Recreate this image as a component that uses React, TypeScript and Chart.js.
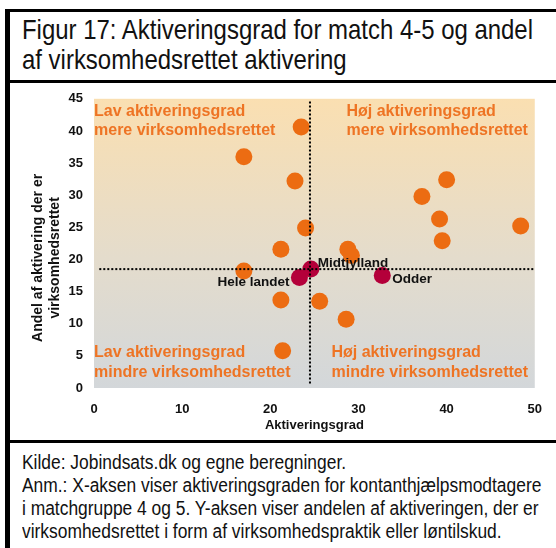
import React, { useEffect, useRef } from "react";
import { Chart, registerables } from "chart.js";

Chart.register(...registerables);

const TITLE_LINES = [
  "Figur 17: Aktiveringsgrad for match 4-5 og andel",
  "af virksomhedsrettet aktivering",
];
const NOTE_LINES = [
  "Kilde: Jobindsats.dk og egne beregninger.",
  "Anm.: X-aksen viser aktiveringsgraden for kontanthjælpsmodtagere",
  "i matchgruppe 4 og 5. Y-aksen viser andelen af aktiveringen, der er",
  "virksomhedsrettet i form af virksomhedspraktik eller løntilskud.",
];
const X_TITLE = "Aktiveringsgrad";
const Y_TITLE = ["Andel af aktivering der er", "virksomhedsrettet"];

const MUNI_X = [17.0, 23.5, 22.8, 21.2, 17.0, 24.0, 28.8, 29.2, 40.0, 37.2, 39.2, 48.4, 39.5, 21.2, 21.4, 25.6, 28.6];
const MUNI_Y = [36.0, 40.6, 32.2, 21.6, 18.2, 24.9, 21.6, 20.6, 32.4, 29.8, 26.3, 25.2, 22.9, 13.7, 5.8, 13.5, 10.7];

const HL_NAMES = ["Hele landet", "Midtjylland", "Odder"];
const HL_X = [23.3, 24.6, 32.7];
const HL_Y = [17.2, 18.5, 17.5];

const REF_X = 24.5;
const REF_Y = 18.5;

const X_MIN = 0, X_MAX = 50, X_STEP = 10;
const Y_MIN = 0, Y_MAX = 45, Y_STEP = 5;

const Q_TOP_LEFT = ["Lav aktiveringsgrad", "mere virksomhedsrettet"];
const Q_TOP_RIGHT = ["Høj aktiveringsgrad", "mere virksomhedsrettet"];
const Q_BOTTOM_LEFT = ["Lav aktiveringsgrad", "mindre virksomhedsrettet"];
const Q_BOTTOM_RIGHT = ["Høj aktiveringsgrad", "mindre virksomhedsrettet"];

const ORANGE = "#EC6C12";
const CRIMSON = "#B4003A";
const LABEL_ORANGE = "#EE7424";
const BOLD = "'Liberation Sans', Arial, sans-serif";
const PLAIN = "'Liberation Sans', Arial, sans-serif";

const bgPlugin = {
  id: "bgGradient",
  beforeDatasetsDraw(chart: any) {
    const { ctx, chartArea: a } = chart;
    const g = ctx.createLinearGradient(0, a.top, 0, a.bottom);
    g.addColorStop(0, "rgb(250,223,177)");
    g.addColorStop(0.55, "rgb(228,220,204)");
    g.addColorStop(1, "rgb(211,215,218)");
    ctx.save();
    ctx.fillStyle = g;
    ctx.fillRect(a.left, a.top, a.right - a.left, a.bottom - a.top);
    ctx.restore();
  },
};

const LABEL_OFFSETS: Record<string, { dx: number; dy: number; align: CanvasTextAlign }> = {
  "Hele landet": { dx: -10, dy: 9, align: "right" },
  Midtjylland: { dx: 7, dy: -2, align: "left" },
  Odder: { dx: 10, dy: 7, align: "left" },
};

const textPlugin = {
  id: "texts",
  afterDraw(chart: any) {
    const { ctx, chartArea: a } = chart;
    ctx.save();
    // y-axis title (two centred lines, rotated)
    ctx.font = `bold 14px ${BOLD}`;
    ctx.fillStyle = "#111";
    ctx.textAlign = "center";
    ctx.textBaseline = "middle";
    const cy = (a.top + a.bottom) / 2 + 14.5;
    Y_TITLE.forEach((t, i) => {
      ctx.save();
      ctx.translate(28.5 + i * 16.5, cy);
      ctx.rotate(-Math.PI / 2);
      ctx.fillText(t, 0, 0);
      ctx.restore();
    });
    ctx.restore();
  },
  afterDatasetsDraw(chart: any) {
    const { ctx, chartArea: a } = chart;
    ctx.save();
    // quadrant labels
    ctx.font = `bold 16px ${BOLD}`;
    ctx.fillStyle = LABEL_ORANGE;
    ctx.textBaseline = "alphabetic";
    ctx.textAlign = "left";
    const drawQ = (lines: string[], x: number, y: number) => {
      lines.forEach((t, i) => ctx.fillText(t, x, y + i * 19.5));
    };
    drawQ(Q_TOP_LEFT, a.left, a.top + 17);
    drawQ(Q_TOP_RIGHT, a.left + 252.5, a.top + 17);
    drawQ(Q_BOTTOM_LEFT, a.left, a.bottom - 31);
    drawQ(Q_BOTTOM_RIGHT, a.left + 237.5, a.bottom - 31);
    // point labels
    ctx.font = `bold 13.5px ${BOLD}`;
    ctx.fillStyle = "#111";
    const meta = chart.getDatasetMeta(2);
    HL_NAMES.forEach((name, i) => {
      const el = meta.data[i];
      const o = LABEL_OFFSETS[name];
      ctx.textAlign = o.align;
      ctx.fillText(name, el.x + o.dx, el.y + o.dy);
    });
    ctx.restore();
  },
};

export default function App() {
  const ref = useRef<HTMLCanvasElement | null>(null);
  useEffect(() => {
    if (!ref.current) return;
    const tickFont = { family: BOLD, size: 13, weight: "bold" as const };
    const chart = new Chart(ref.current, {
      type: "scatter",
      data: {
        datasets: [
          {
            type: "line",
            data: [
              { x: 0.6, y: REF_Y },
              { x: X_MAX, y: REF_Y },
            ],
            borderColor: "#000",
            borderWidth: 2,
            borderDash: [2, 2],
            pointRadius: 0,
            fill: false,
            order: 0,
          } as any,
          {
            type: "line",
            data: [
              { x: REF_X, y: 0.7 },
              { x: REF_X, y: 44.6 },
            ],
            borderColor: "#000",
            borderWidth: 2,
            borderDash: [2, 2],
            pointRadius: 0,
            fill: false,
            order: 0,
          } as any,
          {
            data: HL_X.map((x, i) => ({ x, y: HL_Y[i] })),
            backgroundColor: CRIMSON,
            borderColor: CRIMSON,
            borderWidth: 0,
            pointRadius: 8.5,
            order: 1,
          },
          {
            data: MUNI_X.map((x, i) => ({ x, y: MUNI_Y[i] })),
            backgroundColor: ORANGE,
            borderColor: ORANGE,
            borderWidth: 0,
            pointRadius: 8.5,
            order: 2,
          },
        ],
      },
      options: {
        responsive: true,
        maintainAspectRatio: false,
        animation: false,
        layout: { padding: { left: 0, right: 17, top: 0, bottom: 0 } },
        plugins: { legend: { display: false }, tooltip: { enabled: false } },
        scales: {
          x: {
            type: "linear",
            min: X_MIN,
            max: X_MAX,
            grid: { display: false, drawTicks: false },
            border: { display: false },
            ticks: { stepSize: X_STEP, font: tickFont, color: "#111", padding: 14 },
            title: {
              display: true,
              text: X_TITLE,
              font: tickFont,
              color: "#111",
              padding: { top: 0, bottom: 7 },
            },
            afterFit: (s: any) => {
              s.height = 52;
            },
          },
          y: {
            type: "linear",
            min: Y_MIN,
            max: Y_MAX,
            grid: { display: false, drawTicks: false },
            border: { display: false },
            ticks: { stepSize: Y_STEP, font: tickFont, color: "#111", padding: 11 },
            title: { display: false },
            afterFit: (s: any) => {
              s.width = 84;
            },
          },
        },
      },
      plugins: [bgPlugin, textPlugin],
    });
    return () => chart.destroy();
  }, []);

  const narrow = (scale: number): React.CSSProperties => ({
    display: "block",
    transform: `scaleX(${scale})`,
    transformOrigin: "left top",
    whiteSpace: "nowrap",
  });

  return (
    <div
      style={{
        position: "fixed",
        left: 0,
        top: 0,
        width: 556,
        height: 548,
        background: "#fff",
        overflow: "hidden",
      }}
    >
      <div style={{ position: "absolute", left: 5, top: 9, width: 551, height: 3, background: "#000" }} />
      <div style={{ position: "absolute", left: 5, top: 9, width: 5, height: 539, background: "#000" }} />
      <div
        style={{
          position: "absolute",
          left: 22,
          top: 15,
          width: 650,
          fontFamily: PLAIN,
          fontSize: 28,
          lineHeight: "30px",
          color: "#111",
        }}
      >
        {TITLE_LINES.map((t, i) => (
          <div key={i} style={narrow(0.855)}>{t}</div>
        ))}
      </div>
      <div style={{ position: "absolute", left: 10, top: 80, width: 546, height: 360 }}>
        <canvas ref={ref} />
      </div>
      <div style={{ position: "absolute", left: 5, top: 80, width: 551, height: 3, background: "#000" }} />
      <div style={{ position: "absolute", left: 5, top: 440, width: 551, height: 3, background: "#000" }} />
      <div
        style={{
          position: "absolute",
          left: 22,
          top: 451,
          width: 650,
          fontFamily: PLAIN,
          fontSize: 20,
          lineHeight: "23px",
          color: "#111",
        }}
      >
        {NOTE_LINES.map((t, i) => (
          <div key={i} style={narrow(0.87)}>{t}</div>
        ))}
      </div>
    </div>
  );
}
